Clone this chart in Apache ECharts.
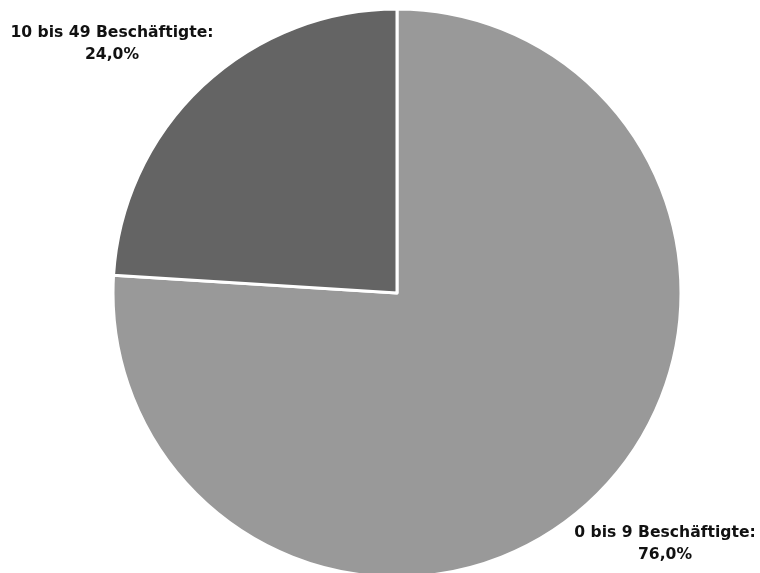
<!DOCTYPE html>
<html><head><meta charset="utf-8">
<script src="https://cdn.jsdelivr.net/npm/echarts@6/dist/echarts.min.js"></script>
<style>html,body{margin:0;padding:0;background:#fff}#c{width:760px;height:573px}</style>
</head><body><div id="c"></div>
<script>
const categories = ["0 bis 9 Beschäftigte", "10 bis 49 Beschäftigte"];
const values = [76.0, 24.0];
const colors = ["#999999", "#646464"];
const labelPos = [[665, 544], [112, 44]];

const chart = echarts.init(document.getElementById('c'));
chart.setOption({
  animation: false,
  series: [{
    type: 'pie',
    center: [397, 293],
    radius: [0, 284],
    startAngle: 90,
    clockwise: true,
    data: categories.map((n, i) => ({name: n, value: values[i], itemStyle: {color: colors[i]}})),
    itemStyle: {borderColor: '#fff', borderWidth: 3},
    label: {
      show: true,
      position: 'outside',
      formatter: p => p.name + ':\n' + p.value.toFixed(1).replace('.', ',') + '%',
      fontFamily: 'DejaVu Sans',
      fontWeight: 'bold',
      fontSize: 15.6,
      lineHeight: 22,
      color: '#111',
      align: 'center',
      overflow: 'none',
      width: 300
    },
    labelLine: {show: false},
    labelLayout: function (params) {
      const p = labelPos[params.dataIndex];
      return {x: p[0], y: p[1], align: 'center', verticalAlign: 'middle'};
    },
    emphasis: {disabled: true}
  }]
});
</script></body></html>
